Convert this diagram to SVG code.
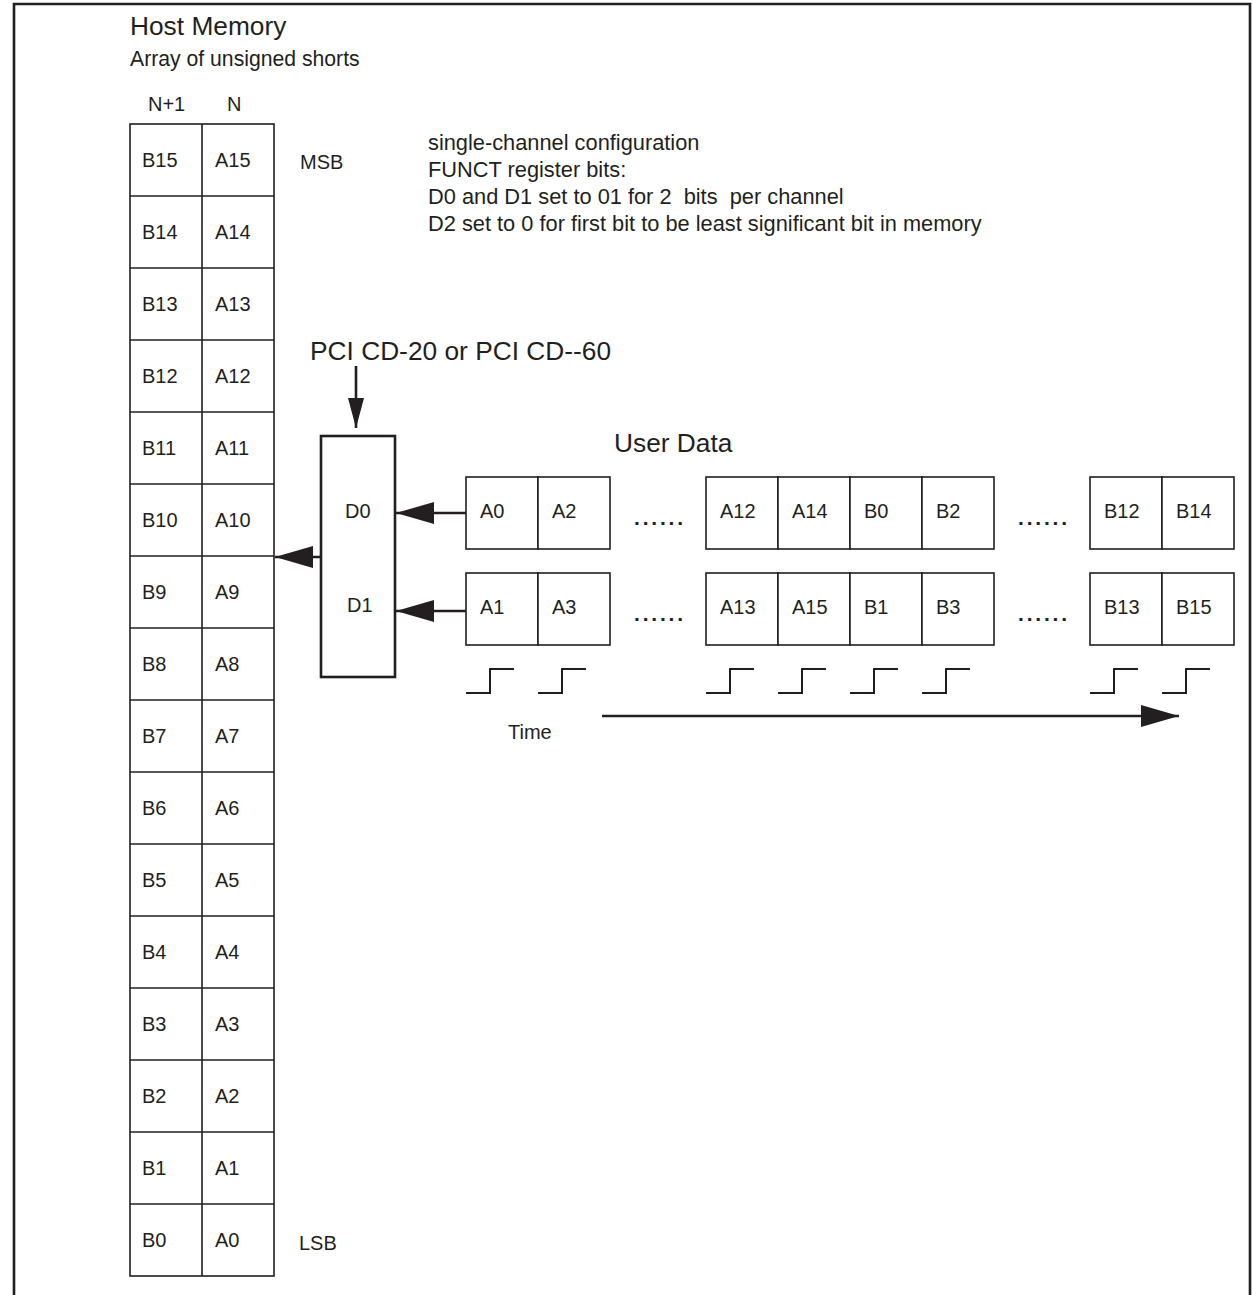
<svg xmlns="http://www.w3.org/2000/svg" width="1253" height="1295" viewBox="0 0 1253 1295">
<style>
text{font-family:"Liberation Sans",Arial,sans-serif;fill:#231f20}
.big{font-size:26.3px}
.mid{font-size:21.8px}
.sub{font-size:21.2px}
.lbl{font-size:20px}
.cell{fill:#fff;stroke:#231f20;stroke-width:1.6}
.dev{fill:#fff;stroke:#231f20;stroke-width:2.6}
.wire{fill:none;stroke:#231f20;stroke-width:2.6}
.clk{fill:none;stroke:#231f20;stroke-width:2}
.dots{font-size:21px;font-weight:bold;letter-spacing:2.8px}
</style>
<defs>
<marker id="ah" markerUnits="userSpaceOnUse" markerWidth="38" markerHeight="22" viewBox="0 0 38 22" refX="38" refY="11" orient="auto"><path d="M0,0 L38,11 L0,22 z" fill="#231f20"/></marker>
<marker id="ahs" markerUnits="userSpaceOnUse" markerWidth="30" markerHeight="16" viewBox="0 0 30 16" refX="30" refY="8" orient="auto"><path d="M0,0 L30,8 L0,16 z" fill="#231f20"/></marker>
</defs>
<rect width="1253" height="1295" fill="#fff"/>
<path d="M14,1295 V4 H1250 V1295" fill="none" stroke="#231f20" stroke-width="2.6"/>
<g id="titles">
<text class="big" x="130" y="35">Host Memory</text>
<text class="sub" x="130" y="66">Array of unsigned shorts</text>
<text class="lbl" x="148" y="111">N+1</text>
<text class="lbl" x="227" y="111">N</text>
<text class="lbl" x="300" y="169">MSB</text>
<text class="lbl" x="299" y="1250">LSB</text>
</g>
<g id="notes" class="mid">
<text x="428" y="150">single-channel configuration</text>
<text x="428" y="177">FUNCT register bits:</text>
<text x="428" y="204" xml:space="preserve" style="white-space:pre">D0 and D1 set to 01 for 2  bits  per channel</text>
<text x="428" y="231">D2 set to 0 for first bit to be least significant bit in memory</text>
</g>
<g id="host-memory">
<rect class="cell" x="130" y="124" width="144" height="1152"/>
<path d="M202,124 V1276 M130,196 H274 M130,268 H274 M130,340 H274 M130,412 H274 M130,484 H274 M130,556 H274 M130,628 H274 M130,700 H274 M130,772 H274 M130,844 H274 M130,916 H274 M130,988 H274 M130,1060 H274 M130,1132 H274 M130,1204 H274" stroke="#231f20" stroke-width="1.6" fill="none"/>
<g class="lbl">
<text x="142" y="167">B15</text><text x="215" y="167">A15</text>
<text x="142" y="239">B14</text><text x="215" y="239">A14</text>
<text x="142" y="311">B13</text><text x="215" y="311">A13</text>
<text x="142" y="383">B12</text><text x="215" y="383">A12</text>
<text x="142" y="455">B11</text><text x="215" y="455">A11</text>
<text x="142" y="527">B10</text><text x="215" y="527">A10</text>
<text x="142" y="599">B9</text><text x="215" y="599">A9</text>
<text x="142" y="671">B8</text><text x="215" y="671">A8</text>
<text x="142" y="743">B7</text><text x="215" y="743">A7</text>
<text x="142" y="815">B6</text><text x="215" y="815">A6</text>
<text x="142" y="887">B5</text><text x="215" y="887">A5</text>
<text x="142" y="959">B4</text><text x="215" y="959">A4</text>
<text x="142" y="1031">B3</text><text x="215" y="1031">A3</text>
<text x="142" y="1103">B2</text><text x="215" y="1103">A2</text>
<text x="142" y="1175">B1</text><text x="215" y="1175">A1</text>
<text x="142" y="1247">B0</text><text x="215" y="1247">A0</text>
</g>
</g>
<g id="pci-device">
<text class="big" x="310" y="360">PCI CD-20 or PCI CD--60</text>
<rect class="dev" x="321" y="436" width="74" height="241"/>
<text class="lbl" x="345" y="518">D0</text>
<text class="lbl" x="347" y="612">D1</text>
</g>
<g id="user-data">
<text class="big" x="614" y="452">User Data</text>
<g class="cell">
<rect x="466" y="477" width="72" height="72"/><rect x="538" y="477" width="72" height="72"/>
<rect x="706" y="477" width="72" height="72"/><rect x="778" y="477" width="72" height="72"/><rect x="850" y="477" width="72" height="72"/><rect x="922" y="477" width="72" height="72"/>
<rect x="1090" y="477" width="72" height="72"/><rect x="1162" y="477" width="72" height="72"/>
<rect x="466" y="573" width="72" height="72"/><rect x="538" y="573" width="72" height="72"/>
<rect x="706" y="573" width="72" height="72"/><rect x="778" y="573" width="72" height="72"/><rect x="850" y="573" width="72" height="72"/><rect x="922" y="573" width="72" height="72"/>
<rect x="1090" y="573" width="72" height="72"/><rect x="1162" y="573" width="72" height="72"/>
</g>
<g class="lbl">
<text x="480" y="518">A0</text><text x="552" y="518">A2</text>
<text x="720" y="518">A12</text><text x="792" y="518">A14</text><text x="864" y="518">B0</text><text x="936" y="518">B2</text>
<text x="1104" y="518">B12</text><text x="1176" y="518">B14</text>
<text x="480" y="614">A1</text><text x="552" y="614">A3</text>
<text x="720" y="614">A13</text><text x="792" y="614">A15</text><text x="864" y="614">B1</text><text x="936" y="614">B3</text>
<text x="1104" y="614">B13</text><text x="1176" y="614">B15</text>
</g>
<text class="dots" x="634" y="525">......</text>
<text class="dots" x="1018" y="525">......</text>
<text class="dots" x="634" y="621">......</text>
<text class="dots" x="1018" y="621">......</text>
</g>
<g id="clock">
<path class="clk" d="M466,693 H490 V669 H514 M538,693 H562 V669 H586 M706,693 H730 V669 H754 M778,693 H802 V669 H826 M850,693 H874 V669 H898 M922,693 H946 V669 H970 M1090,693 H1114 V669 H1138 M1162,693 H1186 V669 H1210"/>
<text class="lbl" x="508" y="739">Time</text>
</g>
<g id="connectors">
<line class="wire" x1="356" y1="366" x2="356" y2="428" marker-end="url(#ahs)"/>
<line class="wire" x1="466" y1="513" x2="396" y2="513" marker-end="url(#ah)"/>
<line class="wire" x1="466" y1="611" x2="396" y2="611" marker-end="url(#ah)"/>
<line class="wire" x1="321" y1="557" x2="275" y2="557" marker-end="url(#ah)"/>
<line class="wire" x1="602" y1="716" x2="1179" y2="716" marker-end="url(#ah)"/>
</g>
</svg>
